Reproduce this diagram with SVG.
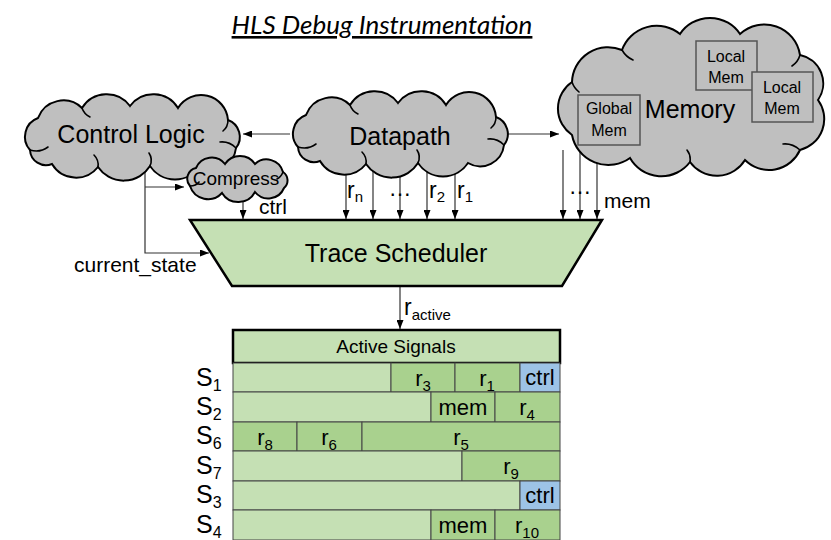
<svg xmlns="http://www.w3.org/2000/svg" width="831" height="540" viewBox="0 0 831 540">
  <defs>
    <style>
      text { font-family: "Liberation Sans", Arial, sans-serif; fill: #000; }
      .title { font-family: Lato, "Open Sans", sans-serif; font-style: italic; font-size: 26px; text-decoration: underline; }
      .cloud { fill: #bfbfbf; stroke: #000; stroke-width: 2; }
      .curl { fill: none; stroke: #000; stroke-width: 1.6; stroke-linecap: round; }
      .cloud-lbl { font-size: 25px; text-anchor: middle; }
      .membox { fill: #bfbfbf; stroke: #555; stroke-width: 1.5; }
      .membox-lbl { font-size: 16px; text-anchor: middle; }
      .wire { fill: none; stroke: #333; stroke-width: 1.2; }
      .arr { marker-end: url(#head); }
      .lbl { font-size: 21px; }
      .sig { font-size: 23px; }
      .sub { font-size: 15px; }
      .sched { fill: #c5e0b4; stroke: #000; stroke-width: 2.5; }
      .hdr { fill: #c5e0b4; stroke: #000; stroke-width: 2.5; }
      .c0 { fill: #c5e0b4; stroke: #444; stroke-width: 1; }
      .c1 { fill: #a9d18e; stroke: #444; stroke-width: 1; }
      .c2 { fill: #9dc3e6; stroke: #444; stroke-width: 1; }
      .cell { font-size: 22px; text-anchor: middle; }
      .row-lbl { font-size: 25px; }
      .row-sub { font-size: 16px; }
    </style>
    <marker id="head" viewBox="0 0 9 7" refX="9" refY="3.5" markerWidth="9" markerHeight="7" markerUnits="userSpaceOnUse" orient="auto">
      <path d="M0,0 L9,3.5 L0,7 Z" fill="#000"/>
    </marker>
    <!-- generic wide cloud, shared by Control Logic and Datapath -->
    <g id="cloud-wide">
      <path class="cloud" d="M30,150 A20,20 0 0 1 38,118 A27,27 0 0 1 82,108 A29,29 0 0 1 130,106 A29,29 0 0 1 178,108 A27,27 0 0 1 228,120 A18,18 0 0 1 236,148 A24,24 0 0 1 200,166 A30,30 0 0 1 150,166 A31,31 0 0 1 98,167 A28,28 0 0 1 52,164 A16,16 0 0 1 30,150 Z"/>
      <path class="curl" d="M30,150 Q40,153 48,147 M98,167 Q99,160 94,155 M150,166 Q153,159 149,153 M236,148 Q229,141 220,142 M228,120 Q228,127 223,131 M82,108 Q84,114 90,117"/>
    </g>
  </defs>

  <rect width="831" height="540" fill="#fff"/>

  <text class="title" x="382" y="34" text-anchor="middle">HLS Debug Instrumentation</text>

  <!-- connectors -->
  <g id="connectors">
    <!-- datapath signals into the scheduler -->
    <path class="wire arr" d="M346,165 V219"/>
    <path class="wire arr" d="M373,165 V219"/>
    <path class="wire arr" d="M400,165 V219"/>
    <path class="wire arr" d="M427,165 V219"/>
    <path class="wire arr" d="M455,165 V219"/>
    <!-- memory signals into the scheduler -->
    <path class="wire arr" d="M563,150 V219"/>
    <path class="wire arr" d="M580,150 V219"/>
    <path class="wire arr" d="M597,150 V219"/>
    <!-- compressed control into the scheduler -->
    <path class="wire arr" d="M243,190 V219"/>
    <!-- current state loop -->
    <path class="wire arr" d="M145,172 V253 H209"/>
    <path class="wire arr" d="M145,187 H184"/>
    <!-- datapath to control logic / memory -->
    <path class="wire arr" d="M290,134 H243"/>
    <path class="wire arr" d="M508,134 H559"/>
    <!-- active signal output -->
    <path class="wire arr" d="M400,287 V329"/>

    <text class="sig" x="347" y="198">r<tspan class="sub" dy="4">n</tspan></text>
    <text class="sig" x="400" y="196" text-anchor="middle">…</text>
    <text class="sig" x="429" y="198">r<tspan class="sub" dy="4">2</tspan></text>
    <text class="sig" x="457" y="198">r<tspan class="sub" dy="4">1</tspan></text>
    <text class="sig" x="580" y="194" text-anchor="middle">…</text>
    <text class="lbl" x="604" y="208">mem</text>
    <text class="lbl" x="259" y="214">ctrl</text>
    <text class="lbl" x="74" y="272">current_state</text>
    <text class="sig" x="404" y="315">r<tspan class="sub" dy="5">active</tspan></text>
  </g>

  <g id="control-logic">
    <use href="#cloud-wide"/>
    <text class="cloud-lbl" x="131" y="143">Control Logic</text>
  </g>

  <g id="datapath">
    <use href="#cloud-wide" transform="translate(268,-3)"/>
    <text class="cloud-lbl" x="400" y="145">Datapath</text>
  </g>

  <g id="memory">
    <path class="cloud" d="M572,135 A32,32 0 0 1 572,82 A36,36 0 0 1 622,50 A37,37 0 0 1 680,34 A36,36 0 0 1 740,34 A36,36 0 0 1 800,55 A29,29 0 0 1 818,100 A32,32 0 0 1 800,150 A34,34 0 0 1 745,160 A33,33 0 0 1 690,162 A36,36 0 0 1 630,158 A37,37 0 0 1 572,135 Z"/>
    <path class="curl" d="M622,50 Q626,57 633,60 M800,55 Q798,62 792,66 M800,150 Q792,143 783,144 M690,162 Q691,155 687,150 M572,82 Q574,88 579,92"/>
    <text class="cloud-lbl" x="690" y="118">Memory</text>
    <g id="global-mem">
      <rect class="membox" x="578" y="95" width="62" height="50"/>
      <text class="membox-lbl" x="609" y="114">Global</text>
      <text class="membox-lbl" x="609" y="136">Mem</text>
    </g>
    <g id="local-mem-1">
      <rect class="membox" x="696" y="41" width="61" height="49"/>
      <text class="membox-lbl" x="726" y="62">Local</text>
      <text class="membox-lbl" x="726" y="83">Mem</text>
    </g>
    <g id="local-mem-2">
      <rect class="membox" x="752" y="72" width="61" height="50"/>
      <text class="membox-lbl" x="782" y="93">Local</text>
      <text class="membox-lbl" x="782" y="114">Mem</text>
    </g>
  </g>

  <g id="compress">
    <path class="cloud" d="M190,186 A11,11 0 0 1 196,168 A17,17 0 0 1 225,164 A18,18 0 0 1 255,164 A17,17 0 0 1 283,172 A10,10 0 0 1 284,188 A17,17 0 0 1 255,192 A19,19 0 0 1 222,193 A19,19 0 0 1 190,186 Z"/>
    <path class="curl" d="M190,186 Q196,186 199,182 M283,172 Q281,177 277,179"/>
    <text x="236" y="185" font-size="19" text-anchor="middle">Compress</text>
  </g>

  <g id="trace-scheduler">
    <polygon class="sched" points="190,220 602,220 562,286 232,286"/>
    <text class="cloud-lbl" x="396" y="262">Trace Scheduler</text>
  </g>

  <g id="active-signals">
    <rect class="hdr" x="233" y="330" width="327" height="33"/>
    <text x="396" y="353" font-size="19" text-anchor="middle">Active Signals</text>

    <!-- S1 -->
    <rect class="c0" x="233" y="363" width="158" height="29"/>
    <rect class="c1" x="391" y="363" width="64" height="29"/>
    <rect class="c1" x="455" y="363" width="65" height="29"/>
    <rect class="c2" x="520" y="363" width="40" height="29"/>
    <text class="cell" x="423" y="386">r<tspan class="sub" dy="5">3</tspan></text>
    <text class="cell" x="487" y="386">r<tspan class="sub" dy="5">1</tspan></text>
    <text class="cell" x="540" y="385">ctrl</text>

    <!-- S2 -->
    <rect class="c0" x="233" y="392" width="198" height="30"/>
    <rect class="c1" x="431" y="392" width="64" height="30"/>
    <rect class="c1" x="495" y="392" width="65" height="30"/>
    <text class="cell" x="463" y="415">mem</text>
    <text class="cell" x="527" y="415">r<tspan class="sub" dy="5">4</tspan></text>

    <!-- S6 -->
    <rect class="c1" x="233" y="422" width="64" height="29"/>
    <rect class="c1" x="297" y="422" width="65" height="29"/>
    <rect class="c1" x="362" y="422" width="198" height="29"/>
    <text class="cell" x="265" y="445">r<tspan class="sub" dy="5">8</tspan></text>
    <text class="cell" x="329" y="445">r<tspan class="sub" dy="5">6</tspan></text>
    <text class="cell" x="461" y="445">r<tspan class="sub" dy="5">5</tspan></text>

    <!-- S7 -->
    <rect class="c0" x="233" y="451" width="229" height="30"/>
    <rect class="c1" x="462" y="451" width="98" height="30"/>
    <text class="cell" x="511" y="474">r<tspan class="sub" dy="5">9</tspan></text>

    <!-- S3 -->
    <rect class="c0" x="233" y="481" width="287" height="29"/>
    <rect class="c2" x="520" y="481" width="40" height="29"/>
    <text class="cell" x="540" y="503">ctrl</text>

    <!-- S4 -->
    <rect class="c0" x="233" y="510" width="198" height="30"/>
    <rect class="c1" x="431" y="510" width="64" height="30"/>
    <rect class="c1" x="495" y="510" width="65" height="30"/>
    <text class="cell" x="463" y="533">mem</text>
    <text class="cell" x="527" y="533">r<tspan class="sub" dy="5">10</tspan></text>

    <!-- row labels -->
    <text class="row-lbl" x="196" y="386">S<tspan class="row-sub" dy="5">1</tspan></text>
    <text class="row-lbl" x="196" y="415">S<tspan class="row-sub" dy="5">2</tspan></text>
    <text class="row-lbl" x="196" y="444">S<tspan class="row-sub" dy="5">6</tspan></text>
    <text class="row-lbl" x="196" y="474">S<tspan class="row-sub" dy="5">7</tspan></text>
    <text class="row-lbl" x="196" y="503">S<tspan class="row-sub" dy="5">3</tspan></text>
    <text class="row-lbl" x="196" y="533">S<tspan class="row-sub" dy="5">4</tspan></text>
  </g>
</svg>
